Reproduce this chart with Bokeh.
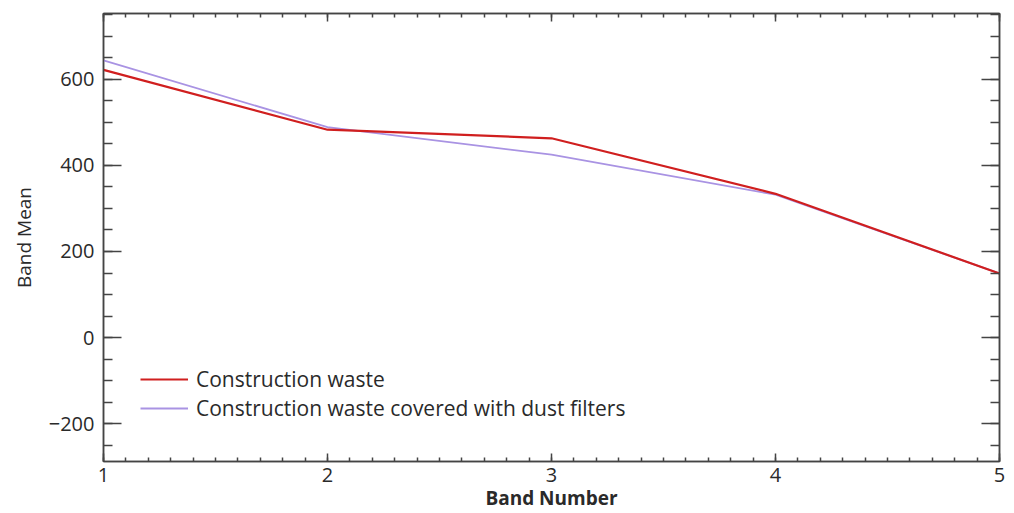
from bokeh.plotting import figure
from bokeh.models import LinearAxis, Legend, LegendItem, Range1d, FixedTicker
from bokeh.embed import file_html
from bokeh.resources import INLINE

bands = [1, 2, 3, 4, 5]
waste = [622, 483, 463, 334, 149]
waste_filtered = [644, 489, 425, 332, 149]
y_ticks = [-200, 0, 200, 400, 600]
x_ticks = [1, 2, 3, 4, 5]

FONT = "Open Sans"
TXT = "#2a2a2a"
AX = "#444444"
FS = "20px"

p = figure(width=1014, height=513, output_backend="svg", toolbar_location=None,
           x_range=Range1d(1, 5), y_range=Range1d(-288, 753),
           min_border_left=103, min_border_right=15, min_border_top=13, min_border_bottom=52,
           x_axis_label="Band Number", y_axis_label="Band Mean")
p.xgrid.visible = False
p.ygrid.visible = False
p.outline_line_color = AX
p.outline_line_width = 1.5
p.background_fill_color = "white"
p.border_fill_color = "white"

r2 = p.line(bands, waste_filtered, line_color="#a993e3", line_width=1.8)
r1 = p.line(bands, waste, line_color="#d01f1f", line_width=2.2)

xminor = [1 + i * 0.1 for i in range(41)]
yminor = [-250 + i * 50 for i in range(21)]

xa = p.xaxis[0]
ya = p.yaxis[0]
xa.ticker = FixedTicker(ticks=x_ticks, minor_ticks=xminor)
ya.ticker = FixedTicker(ticks=y_ticks, minor_ticks=yminor)
ya.major_label_overrides = {-200: "\u2212200"}

for ax in (xa, ya):
    ax.axis_line_color = AX
    ax.axis_line_width = 1.5
    ax.major_tick_line_color = AX
    ax.minor_tick_line_color = AX
    ax.major_tick_line_width = 1.5
    ax.minor_tick_line_width = 1.5
    ax.major_tick_out = 0
    ax.minor_tick_out = 0
    ax.major_label_text_font = FONT
    ax.major_label_text_font_size = FS
    ax.major_label_text_color = TXT
    ax.axis_label_text_font = FONT
    ax.axis_label_text_font_size = "19px"
    ax.axis_label_text_color = TXT
    ax.axis_label_text_font_style = "normal"

xa.major_tick_in = 8
xa.minor_tick_in = 4
xa.major_label_standoff = 6
xa.axis_label_standoff = 0
xa.axis_label_text_font_style = "bold"
ya.major_tick_in = 18
ya.minor_tick_in = 9
ya.major_label_standoff = 9
ya.axis_label_standoff = 9

blank_x = {t: "" for t in x_ticks}
blank_y = {t: "" for t in y_ticks}
top = LinearAxis(ticker=FixedTicker(ticks=x_ticks, minor_ticks=xminor),
                 major_label_overrides=blank_x, major_label_standoff=0,
                 major_tick_in=8, minor_tick_in=4, major_tick_out=0, minor_tick_out=0,
                 axis_line_color=AX, major_tick_line_color=AX, minor_tick_line_color=AX,
                 axis_line_width=1.5, major_tick_line_width=1.5, minor_tick_line_width=1.5)
right = LinearAxis(ticker=FixedTicker(ticks=y_ticks, minor_ticks=yminor),
                   major_label_overrides=blank_y, major_label_standoff=0,
                   major_tick_in=18, minor_tick_in=9, major_tick_out=0, minor_tick_out=0,
                   axis_line_color=AX, major_tick_line_color=AX, minor_tick_line_color=AX,
                   axis_line_width=1.5, major_tick_line_width=1.5, minor_tick_line_width=1.5)
p.add_layout(top, "above")
p.add_layout(right, "right")

legend = Legend(items=[LegendItem(label="Construction waste", renderers=[r1]),
                       LegendItem(label="Construction waste covered with dust filters", renderers=[r2])],
                location=(37, 39), orientation="vertical",
                border_line_color=None, background_fill_alpha=0,
                padding=0, margin=0, spacing=1,
                glyph_width=48, glyph_height=24, label_height=24, label_standoff=8,
                label_text_font=FONT, label_text_font_size="21px", label_text_color=TXT)
p.add_layout(legend, "center")

open("out.html", "w").write(file_html(p, INLINE))
